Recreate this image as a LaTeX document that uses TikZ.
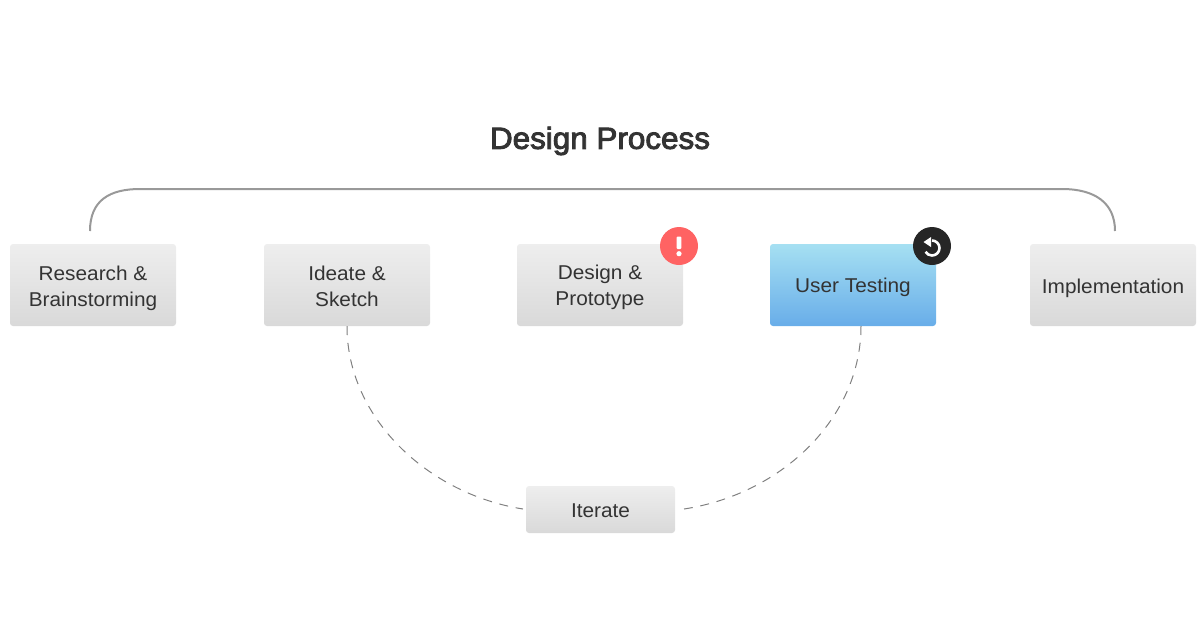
\documentclass[tikz,border=0pt]{standalone}
\usepackage{fontspec}
\setmainfont[FakeStretch=1.04]{Liberation Sans}
\newfontfamily\titlefont[FakeStretch=1.03,FakeBold=3]{Liberation Sans}
\usetikzlibrary{calc}
\definecolor{ink}{HTML}{333333}
\definecolor{graytop}{HTML}{EEEEEE}
\definecolor{graybot}{HTML}{D9D9D9}
\definecolor{bluetop}{HTML}{A6E0F2}
\definecolor{bluemid}{HTML}{52C8EA}
\definecolor{bluebot}{HTML}{68ADE9}
\newcommand{\padto}[1]{\rule{0pt}{#1pt}}
\tikzset{
  x=1pt,y=-1pt,
  boxbase/.style={rectangle,rounded corners=3pt,minimum width=166pt,minimum height=82pt,inner sep=0pt,align=center,text=ink,font=\fontsize{20}{26}\selectfont},
  graybox/.style={boxbase,top color=graytop,bottom color=graybot},
  bluebox/.style={boxbase,top color=bluetop,middle color=bluemid,bottom color=bluebot},
  bracketline/.style={draw=black!40,line width=2pt},
  dashline/.style={draw=black!50,line width=1pt,dash pattern=on 9pt off 7.75pt},
  badge/.style={circle,minimum size=38pt,inner sep=0pt},
}
\begin{document}
\begin{tikzpicture}
\useasboundingbox (0,0) rectangle (1200,633);
\node[text=ink,font=\titlefont\fontsize{30.5}{36}\selectfont] (title) at (600,138) {\padto{28}Design Process};
\node[graybox] (research) at (93,285) {\padto{21.5}Research \&\\Brainstorming};
\node[graybox] (ideate) at (347,285) {\padto{17.5}Ideate \&\\Sketch};
\node[graybox] (design) at (600,285) {\padto{18.5}Design \&\\Prototype};
\node[bluebox] (testing) at (853,285) {\padto{18.5}User Testing};
\node[graybox] (impl) at (1113,285) {\padto{20.5}Implementation};
\node[graybox,minimum width=149pt,minimum height=47pt] (iterate) at (600.5,509.5) {\padto{16}Iterate};
\coordinate (brl) at (90,231);
\coordinate (brr) at (1115,231);
\coordinate (tout) at (861,326);
\coordinate (il) at (523,509);
\coordinate (ir) at (684,509);
\draw[bracketline] (brl) .. controls (90,200) and (110,189) .. (140,189) -- (1062,189) .. controls (1095,189) and (1115,203) .. (brr);
\draw[dashline] (ideate.south) .. controls (347,418) and (428,494) .. (il);
\draw[dashline] (tout) .. controls (861,418) and (782,494) .. (ir);
\node[badge,fill={rgb,255:red,255;green,99;blue,99}] (warn) at (679,246) {};
\fill[white,rounded corners=1pt] (676.7,236.5) rectangle (681.3,249);
\fill[white] (679,253.7) circle (2.6pt);
\node[badge,fill={rgb,255:red,38;green,38;blue,38}] (redo) at (932,246) {};
\draw[white,line width=2.6pt] (932,240.5) arc[start angle=90,end angle=-150,radius=7.5pt];
\fill[white] (931,237) -- (931,247) -- (923.5,242) -- cycle;
\end{tikzpicture}
\end{document}
